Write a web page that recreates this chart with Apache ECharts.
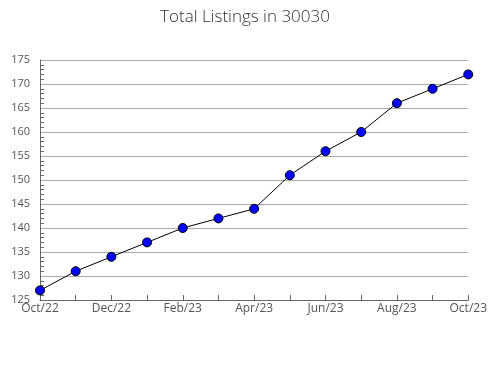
<!DOCTYPE html>
<html><head><meta charset="utf-8">
<script src="https://cdn.jsdelivr.net/npm/echarts@6/dist/echarts.min.js"></script>
<style>html,body{margin:0;padding:0;background:#fff}#c{width:490px;height:380px}</style>
</head><body><div id="c"></div>
<script>
const titleText = 'Total Listings in 30030';
const categories = ['Oct/22','Nov/22','Dec/22','Jan/23','Feb/23','Mar/23','Apr/23','May/23','Jun/23','Jul/23','Aug/23','Sep/23','Oct/23'];
const listings = [127,131,134,137,140,142,144,151,156,160,166,169,172];
const yMin = 125, yMax = 175, yStep = 5;

const chart = echarts.init(document.getElementById('c'), null, {renderer:'canvas'});
chart.setOption({
  animation:false,
  backgroundColor:'#fff',
  title:{text:titleText,left:'center',top:4,textStyle:{fontFamily:'Open Sans',fontWeight:300,fontSize:17,color:'#333'}},
  grid:{left:40,right:20,top:60,bottom:80},
  xAxis:{type:'category',data:categories,boundaryGap:false,
    axisLine:{lineStyle:{color:'#666',width:1}},
    axisTick:{show:true,inside:true,interval:0,length:5,lineStyle:{color:'#666'}},
    axisLabel:{interval:1,color:'#555',fontFamily:'Open Sans',fontSize:12,margin:3},
    splitLine:{show:false}},
  yAxis:{type:'value',min:yMin,max:yMax,interval:yStep,
    axisLine:{show:true,lineStyle:{color:'#666',width:1}},
    axisTick:{show:false,inside:true},
    minorTick:{show:true,splitNumber:5,length:4,lineStyle:{color:'#666'}},
    axisLabel:{color:'#555',fontFamily:'Open Sans',fontSize:11,margin:10},
    splitLine:{show:true,lineStyle:{color:'#aaa',width:1}}},
  series:[{type:'line',data:listings,symbol:'circle',symbolSize:9,
    lineStyle:{color:'#000',width:1},
    itemStyle:{color:'#0000ff',borderColor:'#000',borderWidth:1}}]
});
</script></body></html>
